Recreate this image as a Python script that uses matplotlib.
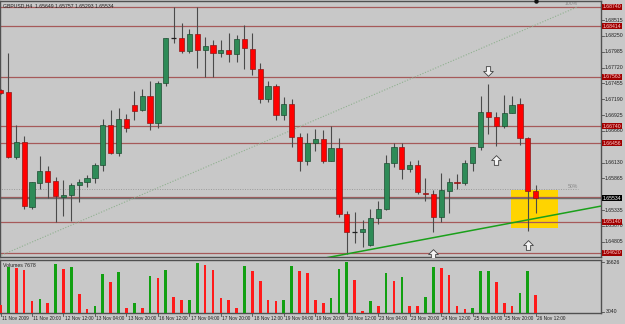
import numpy as np
import matplotlib.pyplot as plt
from matplotlib.patches import Rectangle
from matplotlib.transforms import blended_transform_factory

# GBPUSD H4, 11 Nov - 26 Nov 2009
opens = [1.67344, 1.67310, 1.66218, 1.66479, 1.65391, 1.65793, 1.65983, 1.65816, 1.65558, 1.65592,
         1.65749, 1.65799, 1.65866, 1.66094, 1.66758, 1.66285, 1.66854, 1.67093, 1.67009, 1.67244,
         1.66787, 1.67456, 1.68209, 1.68209, 1.68002, 1.68276, 1.68013, 1.68097, 1.67958, 1.68013,
         1.67941, 1.68192, 1.68035, 1.67690, 1.67188, 1.67411, 1.66926, 1.67110, 1.66552, 1.66161,
         1.66452, 1.66519, 1.66161, 1.66368, 1.65264, 1.64973, 1.64973, 1.64750, 1.65207, 1.65348,
         1.66127, 1.66385, 1.66017, 1.66089, 1.65625, 1.65599, 1.65224, 1.65649, 1.65804, 1.65793,
         1.66117, 1.66395, 1.66981, 1.66887, 1.66742, 1.66964, 1.67110, 1.66536, 1.65649]
highs = [1.67361, 1.67963, 1.66758, 1.66579, 1.65804, 1.66245, 1.66072, 1.65883, 1.65838, 1.65783,
         1.65860, 1.65917, 1.66122, 1.66854, 1.67009, 1.67038, 1.66942, 1.67332, 1.67356, 1.67500,
         1.67500, 1.68214, 1.68740, 1.68460, 1.68360, 1.68735, 1.68236, 1.68181, 1.68181, 1.68293,
         1.68264, 1.68432, 1.68293, 1.67801, 1.67495, 1.67444, 1.67222, 1.67198, 1.66619, 1.66619,
         1.66686, 1.66675, 1.66742, 1.66536, 1.65319, 1.65307, 1.65169, 1.65348, 1.65492, 1.66256,
         1.66462, 1.66452, 1.66156, 1.66173, 1.65876, 1.65671, 1.65950, 1.65866, 1.65938, 1.66173,
         1.66395, 1.67244, 1.67444, 1.66976, 1.67260, 1.67244, 1.67215, 1.66557, 1.65757]
lows = [1.67277, 1.66206, 1.66189, 1.65348, 1.65358, 1.65682, 1.65542, 1.65135, 1.65235, 1.65147,
        1.65470, 1.65726, 1.65793, 1.65984, 1.66273, 1.66240, 1.66646, 1.66842, 1.66993, 1.66675,
        1.66708, 1.67411, 1.68135, 1.67968, 1.67968, 1.67717, 1.67556, 1.67556, 1.67891, 1.67818,
        1.67818, 1.67690, 1.67595, 1.67131, 1.67148, 1.66842, 1.66842, 1.66395, 1.65984, 1.66089,
        1.66328, 1.66127, 1.66150, 1.65224, 1.64600, 1.64779, 1.64722, 1.64739, 1.65102, 1.65336,
        1.66060, 1.65850, 1.65972, 1.65604, 1.65492, 1.64963, 1.65140, 1.65291, 1.65682, 1.65754,
        1.65994, 1.66340, 1.66603, 1.66412, 1.66703, 1.66959, 1.66424, 1.64990, 1.65293]
closes = [1.67294, 1.66223, 1.66479, 1.65403, 1.65799, 1.65994, 1.65809, 1.65565, 1.65592, 1.65754,
          1.65804, 1.65871, 1.66094, 1.66758, 1.66295, 1.66854, 1.66713, 1.66988, 1.67244, 1.66787,
          1.67456, 1.68209, 1.68209, 1.68002, 1.68276, 1.68013, 1.68085, 1.67958, 1.68013, 1.67941,
          1.68192, 1.68042, 1.67690, 1.67188, 1.67411, 1.66926, 1.67110, 1.66552, 1.66161, 1.66452,
          1.66519, 1.66161, 1.66368, 1.65264, 1.64973, 1.64973, 1.65013, 1.65207, 1.65348, 1.66127,
          1.66395, 1.66017, 1.66089, 1.65637, 1.65609, 1.65224, 1.65671, 1.65804, 1.65788, 1.66127,
          1.66385, 1.66981, 1.66887, 1.66742, 1.66964, 1.67093, 1.66541, 1.65649, 1.65534]
volumes = [4993, 15400, 15037, 14563, 5914, 6583, 5467, 16153, 14758, 15232,
           7978, 3877, 4798, 13558, 11326, 14005, 4072, 5635, 4240, 12889,
           12442, 14563, 7141, 6193, 6388, 16480, 15790, 14479, 6862, 6193,
           4072, 15679, 14284, 11494, 6388, 6109, 6388, 15511, 14284, 13642,
           6388, 5635, 6862, 14758, 16626, 11773, 3300, 5914, 4714, 13642,
           11494, 12526, 4714, 4650, 7030, 15232, 15150, 13084, 4714, 3793,
           4072, 14284, 14350, 11326, 5635, 4714, 8257, 14284, 7678]

time_labels = ["11 Nov 2009", "11 Nov 20:00", "12 Nov 12:00", "13 Nov 04:00", "13 Nov 20:00",
               "16 Nov 12:00", "17 Nov 04:00", "17 Nov 20:00", "18 Nov 12:00", "19 Nov 04:00",
               "19 Nov 20:00", "20 Nov 12:00", "23 Nov 04:00", "23 Nov 20:00", "24 Nov 12:00",
               "25 Nov 04:00", "25 Nov 20:00", "26 Nov 12:00"]
label_bars = [0, 4, 8, 12, 16, 20, 24, 28, 32, 36, 40, 44, 48, 52, 56, 60, 64, 68]

# scale labels not hidden behind the level boxes
price_ticks = [1.68515, 1.68250, 1.67985, 1.67720, 1.67455, 1.67190, 1.66925, 1.66660,
               1.66130, 1.65865, 1.65335, 1.65070, 1.64805]
levels = [1.68740, 1.68414, 1.67563, 1.66740, 1.66456, 1.65140, 1.64620]
bid = 1.65534
vol_max, vol_min = 16626, 3040

# drawn objects
fib_x, fib_p = [-34.3, 73.4], [1.62624, 1.68740]
trend_x, trend_p = [40.0, 44.0, 76.3], [1.64501, 1.64600, 1.65401]
box_x, box_p = [64.87, 70.8], [1.65040, 1.65671]
up_arrows = [(63, 1.66168), (67, 1.64755), (55, 1.64600)]
down_arrows = [(62, 1.67662)]

BG = '#c8c8c8'
FRAME = '#505050'
FONT = 'Liberation Sans'
FS = 3.7
TFS = 3.4

W, H = 625, 324
fig = plt.figure(figsize=(W / 100, H / 100), dpi=100, facecolor=BG)
ax = fig.add_axes([0, 67 / H, 601 / W, 256 / H], facecolor=BG)
vax = fig.add_axes([0, 11 / H, 601 / W, 53 / H], facecolor=BG)

for a in (ax, vax):
    a.set_xlim(-0.064, 76.3)
    a.set_xticks([])
    a.set_yticks([])
    for s in a.spines.values():
        s.set_color(FRAME)
        s.set_linewidth(1.0)
ax.set_ylim(1.64549, 1.68833)

x = np.arange(len(opens))

### objects behind the candles ###
ax.add_patch(Rectangle((box_x[0], box_p[0]), box_x[1] - box_x[0], box_p[1] - box_p[0],
                       facecolor='#ffd400', edgecolor='none', zorder=1))
for lv in levels:
    ax.axhline(lv, color='#a65a5a', lw=0.9, zorder=2)
ax.axhline(1.65550, color='#a65a5a', lw=0.9, zorder=2)
ax.axhline(bid, color='#6e6e6e', lw=1.0, zorder=2)

# fibonacci: trend line + 50% level
ax.plot(fib_x, fib_p, color='#8fb08f', lw=0.8, ls=(0, (1, 1.5)), zorder=2)
fib50 = (fib_p[0] + fib_p[1]) / 2
ax.plot(fib_x, [fib50, fib50], color='#9a9a9a', lw=0.7, ls=(0, (1, 1.5)), zorder=2)
ax.text(fib_x[1], fib_p[1] + 0.00005, "100%", fontsize=FS, family=FONT, color='#8a8a8a',
        ha='right', va='bottom', zorder=2)
ax.text(fib_x[1], fib50 + 0.00005, "50%", fontsize=FS, family=FONT, color='#8a8a8a',
        ha='right', va='bottom', zorder=2)

### candles ###
for i in x:
    o, h, l, c = opens[i], highs[i], lows[i], closes[i]
    ax.vlines(i, l, h, color='#4a4a4a', lw=0.8, zorder=3)
    if abs(c - o) < 1e-5:
        ax.hlines(o, i - 0.33, i + 0.33, color='#202020', lw=0.9, zorder=4)
        continue
    col = '#2e8b57' if c > o else '#ff0000'
    edge = '#1d4d32' if c > o else '#8a1a1a'
    ax.bar(i, abs(c - o), bottom=min(o, c), width=0.66, color=col,
           edgecolor=edge, lw=0.5, zorder=4)

ax.plot(trend_x, trend_p, color='#1aa01a', lw=1.1, zorder=5)

# hollow arrows
up_verts = [(-0.22, -0.5), (0.22, -0.5), (0.22, 0.0), (0.5, 0.0), (0.0, 0.5),
            (-0.5, 0.0), (-0.22, 0.0), (-0.22, -0.5)]
down_verts = [(vx, -vy) for vx, vy in up_verts]
for bx, bp in up_arrows:
    ax.plot(bx, bp, marker=up_verts, ms=7, mfc='#f4f4f4', mec='#404040', mew=0.6, zorder=6)
for bx, bp in down_arrows:
    ax.plot(bx, bp, marker=down_verts, ms=7, mfc='#f4f4f4', mec='#404040', mew=0.6, zorder=6)
ax.plot(68, 1.68828, marker='o', ms=2.2, color='#101010', clip_on=False, zorder=6)

ax.text(0.005, 0.99, "GBPUSD,H4  1.65649 1.65757 1.65293 1.65534", transform=ax.transAxes,
        fontsize=FS, family=FONT, color='#202020', ha='left', va='top', zorder=7)

### price scale ###
ytr = blended_transform_factory(ax.transAxes, ax.transData)
for p in price_ticks:
    ax.plot([1.0, 1.005], [p, p], transform=ytr, color=FRAME, lw=0.6, clip_on=False)
    ax.text(1.006, p, f"{p:.5f}", transform=ytr, fontsize=FS, family=FONT, color='#202020',
            ha='left', va='center', clip_on=False, zorder=7)
for lv in levels:
    ax.text(1.003, lv, f"{lv:.5f}", transform=ytr, fontsize=FS, family=FONT, color='#ffd0d0',
            ha='left', va='center', clip_on=False, zorder=8,
            bbox=dict(boxstyle='square,pad=0.1', fc='#a00000', ec='none'))
ax.text(1.003, bid, f"{bid:.5f}", transform=ytr, fontsize=FS, family=FONT, color='white',
        ha='left', va='center', clip_on=False, zorder=9,
        bbox=dict(boxstyle='square,pad=0.1', fc='#000000', ec='none'))

### volumes ###
vcols = ['#ff1a1a'] + ['#12a012' if volumes[i] > volumes[i - 1] else '#ff1a1a'
                       for i in range(1, len(volumes))]
vax.set_ylim(2761, 17270)
vax.bar(x, volumes, width=0.34, color=vcols, edgecolor='none', zorder=3)
vax.text(0.005, 0.94, f"Volumes {volumes[-1]}", transform=vax.transAxes, fontsize=FS,
         family=FONT, color='#202020', ha='left', va='top')
vtr = blended_transform_factory(vax.transAxes, vax.transData)
for v in (vol_max, vol_min):
    vax.plot([1.0, 1.005], [v, v], transform=vtr, color=FRAME, lw=0.6, clip_on=False)
    vax.text(1.008, v, str(v), transform=vtr, fontsize=FS, family=FONT, color='#202020',
             ha='left', va='center', clip_on=False)

# time axis
xtr = blended_transform_factory(vax.transData, vax.transAxes)
for b, lab in zip(label_bars, time_labels):
    vax.plot([b, b], [0, -0.06], transform=xtr, color=FRAME, lw=0.6, clip_on=False)
    vax.text(b + 0.15, -0.11, lab, transform=xtr, fontsize=TFS, family=FONT, color='#202020',
             ha='left', va='center', clip_on=False)

fig.savefig("out.png", dpi=100, facecolor=BG)
